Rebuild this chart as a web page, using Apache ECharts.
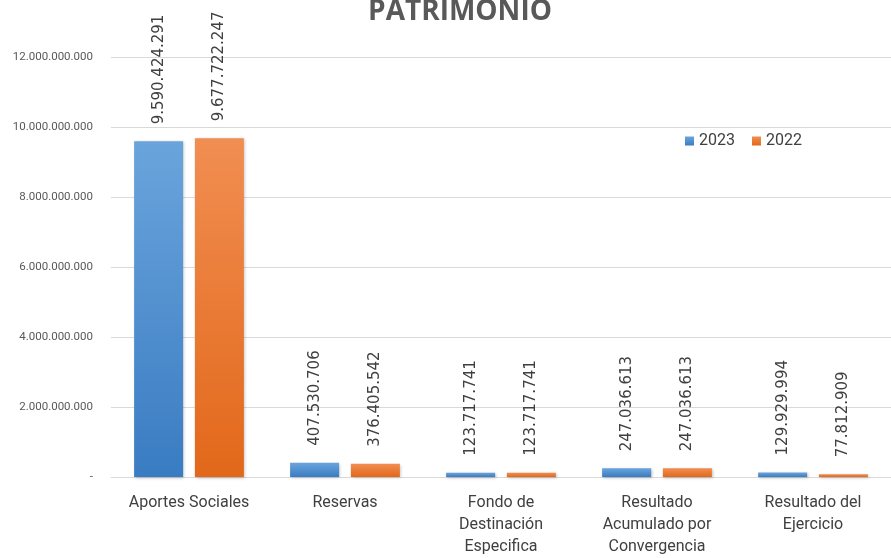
<!DOCTYPE html>
<html>
<head>
<meta charset="utf-8">
<script src="https://cdn.jsdelivr.net/npm/echarts@6/dist/echarts.min.js"></script>
<style>
  html, body { margin: 0; padding: 0; background: #fff; }
  #patrimonio-graph { width: 891px; height: 558px; }
</style>
</head>
<body>
<div id="patrimonio-graph"></div>
<script>
  const categories = ['Aportes Sociales', 'Reservas', 'Fondo de\nDestinación\nEspecifica', 'Resultado\nAcumulado por\nConvergencia', 'Resultado del\nEjercicio']
  const values2023 = [9590424291, 407530706, 123717741, 247036613, 129929994]
  const values2022 = [9677722247, 376405542, 123717741, 247036613, 77812909]
  const yTicks = { min: 0, max: 12000000000, interval: 2000000000 }

  function puntos(v) {
    return String(Math.round(v)).replace(/\B(?=(\d{3})+(?!\d))/g, '.')
  }

  function grad(top, bottom) {
    return new echarts.graphic.LinearGradient(0, 0, 0, 1, [
      { offset: 0, color: top },
      { offset: 1, color: bottom }
    ])
  }

  const labelStyle = {
    show: true,
    position: 'top',
    rotate: 90,
    align: 'left',
    verticalAlign: 'middle',
    distance: 17,
    color: '#404040',
    fontSize: 15,
    fontFamily: 'DejaVu Sans, sans-serif',
    formatter: p => puntos(p.value)
  }

  const myChart = echarts.init(document.getElementById('patrimonio-graph'))
  myChart.setOption({
    animation: false,
    title: {
      text: 'PATRIMONIO',
      left: 455,
      textAlign: 'center',
      top: -7,
      textStyle: {
        color: '#595959',
        fontSize: 28,
        fontWeight: 'bold',
        fontFamily: 'Open Sans, Roboto, sans-serif'
      }
    },
    legend: {
      data: ['2023', '2022'],
      left: 680,
      top: 128,
      itemWidth: 9,
      itemHeight: 9,
      itemGap: 17,
      icon: 'rect',
      textStyle: {
        color: '#404040',
        fontSize: 16,
        fontFamily: 'Roboto, sans-serif'
      }
    },
    grid: {
      left: 111,
      top: 57,
      width: 792,
      bottom: 81,
      containLabel: false
    },
    xAxis: {
      type: 'category',
      data: categories,
      axisLine: { lineStyle: { color: '#d9d9d9' } },
      axisTick: { show: false },
      axisLabel: {
        color: '#404040',
        fontSize: 16,
        lineHeight: 22,
        margin: 15,
        interval: 0,
        fontFamily: 'Roboto, sans-serif'
      }
    },
    yAxis: {
      type: 'value',
      min: yTicks.min,
      max: yTicks.max,
      interval: yTicks.interval,
      axisLine: { show: false },
      axisTick: { show: false },
      splitLine: { lineStyle: { color: '#d9d9d9' } },
      axisLabel: {
        color: '#595959',
        fontSize: 11.5,
        margin: 18,
        fontFamily: 'Roboto, sans-serif',
        formatter: v => v === 0 ? '-' : puntos(v)
      }
    },
    series: [{
      name: '2023',
      type: 'bar',
      data: values2023,
      barWidth: 49,
      barGap: '24%',
      itemStyle: {
        color: grad('#6aa4dc', '#3a7cc2'),
        shadowColor: 'rgba(0,0,0,0.25)',
        shadowBlur: 3,
        shadowOffsetX: 1,
        shadowOffsetY: 1
      },
      label: labelStyle
    }, {
      name: '2022',
      type: 'bar',
      data: values2022,
      barWidth: 49,
      itemStyle: {
        color: grad('#f18e52', '#e2681a'),
        shadowColor: 'rgba(0,0,0,0.25)',
        shadowBlur: 3,
        shadowOffsetX: 1,
        shadowOffsetY: 1
      },
      label: labelStyle
    }]
  })
</script>
</body>
</html>
